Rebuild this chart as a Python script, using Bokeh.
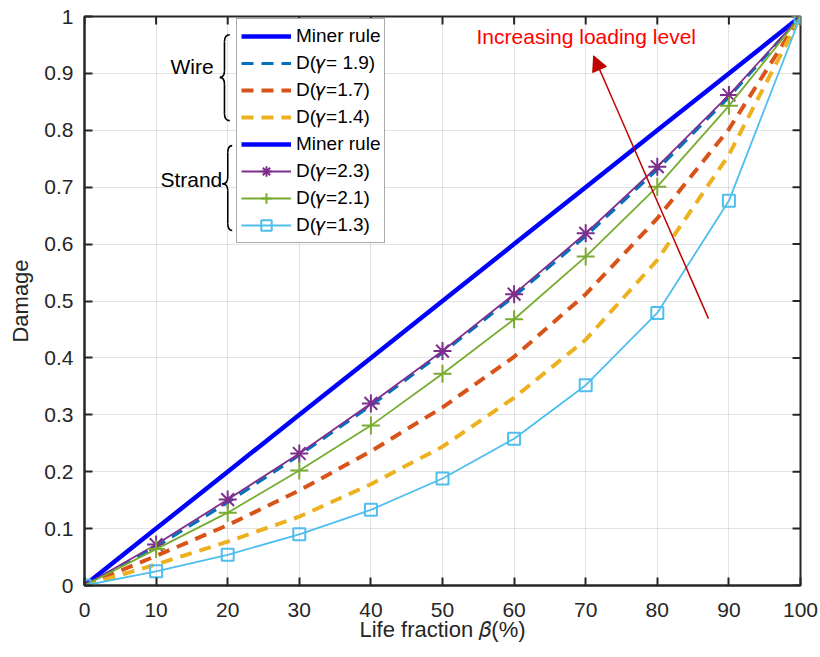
from bokeh.plotting import figure
from bokeh.models import (Range1d, FixedTicker, Legend, LegendItem,
                          Arrow, NormalHead, Label)
from bokeh.embed import file_html
from bokeh.resources import INLINE

# ---------------- data ----------------
beta = [0, 10, 20, 30, 40, 50, 60, 70, 80, 90, 100]
miner = [0.0, 0.1, 0.2, 0.3, 0.4, 0.5, 0.6, 0.7, 0.8, 0.9, 1.0]
wire_19 = [0, 0.068, 0.146, 0.229, 0.316, 0.409, 0.508, 0.614, 0.731, 0.858, 1.0]
wire_17 = [0, 0.052, 0.106, 0.167, 0.236, 0.313, 0.402, 0.512, 0.645, 0.802, 1.0]
wire_14 = [0, 0.037, 0.077, 0.121, 0.178, 0.244, 0.330, 0.432, 0.572, 0.757, 1.0]
strand_23 = [0, 0.072, 0.151, 0.232, 0.320, 0.412, 0.512, 0.619, 0.736, 0.862, 1.0]
strand_21 = [0, 0.064, 0.128, 0.202, 0.281, 0.372, 0.468, 0.578, 0.701, 0.843, 1.0]
strand_13 = [0, 0.025, 0.054, 0.090, 0.133, 0.188, 0.258, 0.352, 0.479, 0.676, 1.0]

x_ticks = [0, 10, 20, 30, 40, 50, 60, 70, 80, 90, 100]
y_ticks = [0, 0.1, 0.2, 0.3, 0.4, 0.5, 0.6, 0.7, 0.8, 0.9, 1]
y_tick_labels = ["0", "0.1", "0.2", "0.3", "0.4", "0.5", "0.6", "0.7", "0.8", "0.9", "1"]

legend_labels = ["Miner rule", "D(\U0001D6FE= 1.9)", "D(\U0001D6FE=1.7)", "D(\U0001D6FE=1.4)",
                 "Miner rule", "D(\U0001D6FE=2.3)", "D(\U0001D6FE=2.1)", "D(\U0001D6FE=1.3)"]

FONT = "Liberation Sans"
TXT = "#262626"
ML, MR, MT, MB = 84, 20, 16, 72
W, H = 820, 657
FW, FH = W - ML - MR, H - MT - MB

p = figure(width=W, height=H, x_range=Range1d(0, 100), y_range=Range1d(0, 1),
           output_backend="svg", toolbar_location=None,
           min_border_left=ML, min_border_right=MR, min_border_top=MT, min_border_bottom=MB)
p.background_fill_color = "white"
p.outline_line_color = TXT
p.outline_line_width = 2

# axes
for ax in (p.xaxis[0], p.yaxis[0]):
    ax.major_tick_in = 8
    ax.major_tick_out = 0
    ax.minor_tick_in = 0
    ax.minor_tick_out = 0
    ax.minor_tick_line_color = None
    ax.axis_line_color = TXT
    ax.axis_line_width = 2
    ax.major_tick_line_color = TXT
    ax.major_tick_line_width = 2
    ax.major_label_text_font = FONT
    ax.major_label_text_font_size = "21px"
    ax.major_label_text_color = TXT
    ax.axis_label_text_font = FONT
    ax.axis_label_text_font_size = "22px"
    ax.axis_label_text_font_style = "normal"
    ax.axis_label_text_color = TXT

p.xaxis.ticker = FixedTicker(ticks=x_ticks)
p.yaxis.ticker = FixedTicker(ticks=y_ticks)
p.yaxis.major_label_overrides = {t: l for t, l in zip(y_ticks, y_tick_labels)}
p.xaxis.axis_label = "Life fraction \U0001D6FD(%)"
p.yaxis.axis_label = "Damage"
p.xaxis.major_label_standoff = 17
p.yaxis.major_label_standoff = 11
p.xaxis.axis_label_standoff = -3
p.yaxis.axis_label_standoff = 8

p.grid.grid_line_color = TXT
p.grid.grid_line_alpha = 0.13
p.grid.grid_line_width = 1
p.xgrid.ticker = FixedTicker(ticks=x_ticks)
p.ygrid.ticker = FixedTicker(ticks=y_ticks)

# inward ticks on top and right edges (box on)
tx = 100 * 8 / FW
ty = 1 * 8 / FH
p.segment(x0=x_ticks, y0=[1 - ty] * len(x_ticks), x1=x_ticks, y1=[1] * len(x_ticks),
          line_color=TXT, line_width=2)
p.segment(x0=[100 - tx] * len(y_ticks), y0=y_ticks, x1=[100] * len(y_ticks), y1=y_ticks,
          line_color=TXT, line_width=2)

# series
r_miner = p.line(beta, miner, line_color="#0000FF", line_width=4.5)
r_w19 = p.line(beta, wire_19, line_color="#0072BD", line_width=3, line_dash="12 8")
r_w17 = p.line(beta, wire_17, line_color="#D95319", line_width=4, line_dash="12 8")
r_w14 = p.line(beta, wire_14, line_color="#EDB120", line_width=4, line_dash="12 8")

r_s23 = p.line(beta, strand_23, line_color="#7E2F8E", line_width=1.8)
m_s23 = p.scatter(beta, strand_23, marker="asterisk", size=18, line_color="#7E2F8E", line_width=2)
r_s21 = p.line(beta, strand_21, line_color="#77AC30", line_width=1.8)
m_s21 = p.scatter(beta, strand_21, marker="cross", size=18, line_color="#77AC30", line_width=2)
r_s13 = p.line(beta, strand_13, line_color="#4DBEEE", line_width=1.8)
m_s13 = p.scatter(beta, strand_13, marker="square", size=12, line_color="#4DBEEE",
                  fill_color=None, line_width=2)

renders = [[r_miner], [r_w19], [r_w17], [r_w14], [r_miner],
           [r_s23, m_s23], [r_s21, m_s21], [r_s13, m_s13]]
items = [LegendItem(label=l, renderers=r) for l, r in zip(legend_labels, renders)]
legend = Legend(items=items, location=(152, 342), label_text_font=FONT,
                label_text_font_size="19px", label_text_color="black",
                glyph_width=50, glyph_height=26, label_height=26, spacing=1,
                padding=4, label_standoff=5, margin=0,
                border_line_color="#555555", border_line_width=1,
                background_fill_color="white", background_fill_alpha=1)
p.add_layout(legend)

# braces (Wire / Strand) : x_end, x_mid, x_tip, y_top, y_mid, y_bot
braces = [(20.29, 19.55, 18.9, 0.968, 0.893, 0.817),
          (20.63, 20.01, 19.23, 0.773, 0.706, 0.624)]
c = 0.012
for (r, m, t, T, M, B) in braces:
    p.quadratic(x0=[r, m, t, m], y0=[T, M + c, M, B + c],
                x1=[m, t, m, r], y1=[T - c, M, M - c, B],
                cx=[m, m, m, m], cy=[T, M, M, B], line_color="black", line_width=1.6)
    p.segment(x0=[m, m], y0=[T - c, M - c], x1=[m, m], y1=[M + c, B + c],
              line_color="black", line_width=1.6)

p.add_layout(Label(x=12.0, y=0.913, text="Wire", text_font=FONT, text_font_size="21px",
                   text_color="black", text_baseline="middle", text_align="left"))
p.add_layout(Label(x=10.6, y=0.7127, text="Strand", text_font=FONT, text_font_size="21px",
                   text_color="black", text_baseline="middle", text_align="left"))
p.add_layout(Label(x=54.75, y=0.9644, text="Increasing loading level", text_font=FONT,
                   text_font_size="21px", text_color="#FF0000", text_baseline="middle",
                   text_align="left"))
p.add_layout(Arrow(end=NormalHead(size=15, fill_color="#C00000", line_color="#C00000"),
                   x_start=87.15, y_start=0.469, x_end=71.1, y_end=0.931,
                   line_color="#C00000", line_width=1.5))

open("out.html", "w").write(file_html(p, INLINE))
